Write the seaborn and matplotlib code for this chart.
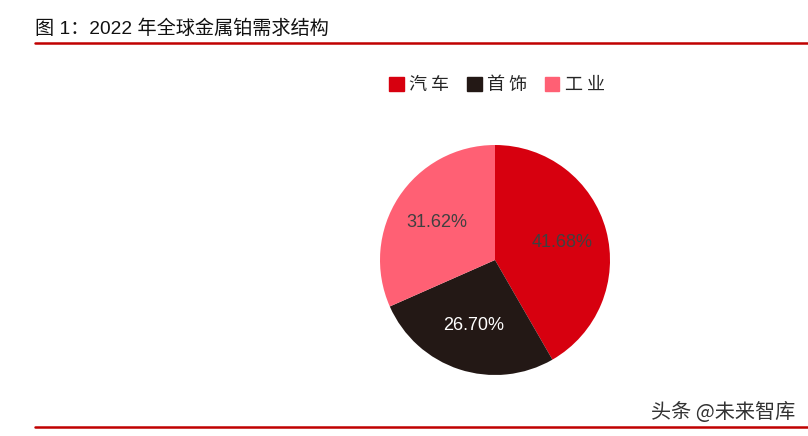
import matplotlib
matplotlib.use("Agg")
import matplotlib.pyplot as plt
import seaborn as sns
from matplotlib.lines import Line2D

sns.set_theme(style="white")
plt.rcParams["font.family"] = ["Liberation Sans", "Noto Sans CJK SC", "DejaVu Sans"]

categories = ["汽 车", "首 饰", "工 业"]
shares = [41.68, 26.70, 31.62]
colors = ["#d7000f", "#231815", "#ff6074"]
label_colors = ["#404040", "#ffffff", "#404040"]

fig = plt.figure(figsize=(8.08, 4.36), dpi=100)

# title and red rules
fig.text(35 / 808, 1 - 29 / 436, "图 1：2022 年全球金属铂需求结构", fontsize=13.8,
         color="#111111", va="center", ha="left")
fig.add_artist(Line2D([35 / 808, 1], [1 - 43 / 436] * 2, color="#c00000", lw=1.8))
fig.add_artist(Line2D([35 / 808, 1], [1 - 427 / 436] * 2, color="#c00000", lw=1.8))
fig.text(795 / 808, 1 - 412 / 436, "头条 @未来智库", fontsize=14.5, color="#333333",
         ha="right", va="center", family=["Noto Sans CJK SC", "DejaVu Sans"])

ax = fig.add_axes([380 / 808, 1 - 375 / 436, 230 / 808, 230 / 436])
wedges, texts, autotexts = ax.pie(
    shares, colors=colors, startangle=90, counterclock=False,
    autopct="%.2f%%", pctdistance=0.6,
    wedgeprops={"linewidth": 0},
    textprops={"fontsize": 13},
)
for t, c in zip(autotexts, label_colors):
    t.set_color(c)
ax.set_xlim(-1, 1)
ax.set_ylim(-1, 1)
ax.set_aspect("equal")
ax.axis("off")

handles = [plt.Rectangle((0, 0), 1, 1, color=c) for c in colors]
fig.legend(handles, categories, loc="center", bbox_to_anchor=(497 / 808, 1 - 85 / 436),
           ncol=3, frameon=False, handlelength=0.8, handleheight=0.8,
           handletextpad=0.3, columnspacing=1.0,
           prop={"family": ["Noto Sans CJK SC", "DejaVu Sans"], "size": 13})

fig.savefig("out.png", dpi=100)
